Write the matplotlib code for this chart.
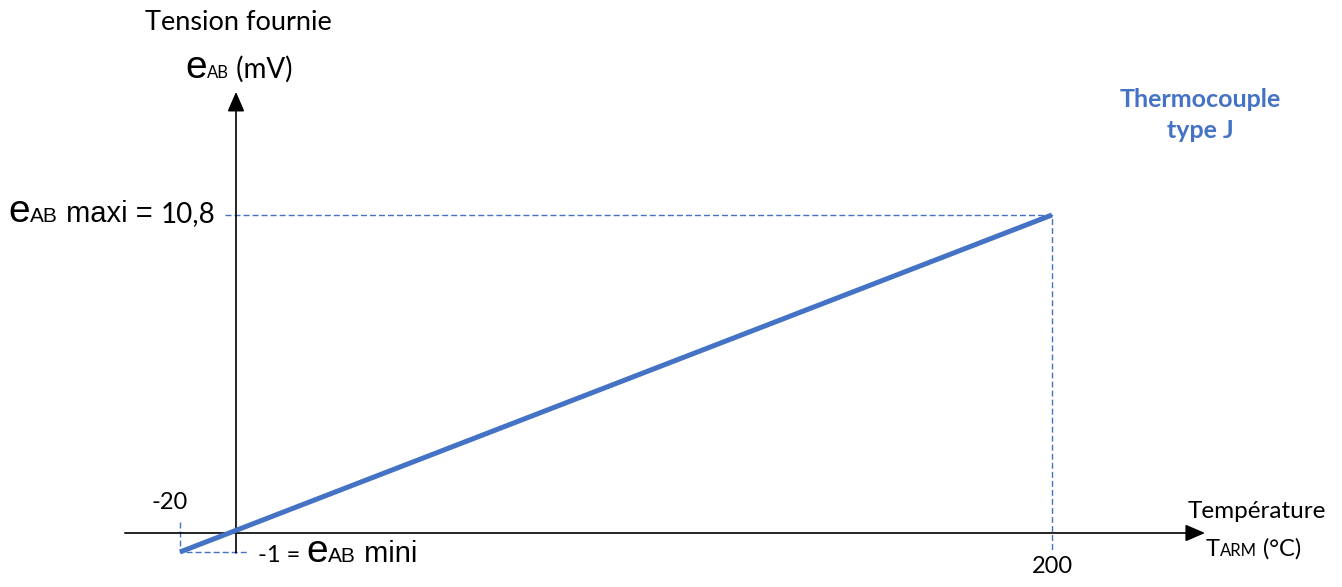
import numpy as np
import matplotlib
matplotlib.use("Agg")
import matplotlib.pyplot as plt
from matplotlib.patches import FancyArrowPatch
from matplotlib.offsetbox import TextArea, HPacker, AnnotationBbox

# Thermocouple type J: output voltage over the measuring range
temperature = [-20, 200]      # °C
voltage = [-1.0, 10.8]        # mV
t_min, t_max = temperature
e_min, e_max = voltage

BLUE = "#4472C4"
CAL = ["Lato", "DejaVu Sans"]
ARI = ["Liberation Sans", "DejaVu Sans"]

fig = plt.figure(figsize=(13.42, 5.87), dpi=100)
ax = fig.add_axes([0, 0, 1, 1])

# The negative side of both axes is drawn compressed (schematic view)
KX, KY = 0.686, 0.645


def fwd_x(x):
    x = np.asarray(x, float)
    return np.where(x < 0, x * KX, x)


def inv_x(x):
    x = np.asarray(x, float)
    return np.where(x < 0, x / KX, x)


def fwd_y(y):
    y = np.asarray(y, float)
    return np.where(y < 0, y * KY, y)


def inv_y(y):
    y = np.asarray(y, float)
    return np.where(y < 0, y / KY, y)


ax.set_xscale("function", functions=(fwd_x, inv_x))
ax.set_yscale("function", functions=(fwd_y, inv_y))
ax.set_xlim(-57.84 / KX, 271.08)
ax.set_ylim(-1.834 / KY, 18.10)
ax.set_axis_off()

# Axes drawn as arrows through the origin
arrow_kw = dict(arrowstyle="-|>,head_length=1.2,head_width=0.52", lw=1.2,
                color="black", mutation_scale=10, shrinkA=0, shrinkB=0, zorder=3)
ax.add_patch(FancyArrowPatch((-39.7, 0), (237.5, 0), **arrow_kw))
ax.add_patch(FancyArrowPatch((0, -1.05), (0, 14.98), **arrow_kw))

# Guide lines to the range limits
dash = dict(color=BLUE, lw=1.0, linestyle=(0, (4.3, 2.2)))
ax.plot([-3.9, t_max, t_max], [e_max, e_max, -0.9], **dash)
ax.plot([t_min, t_min, 2.9], [0.374, e_min, e_min], **dash)

# Characteristic
ax.plot(temperature, voltage, color=BLUE, lw=3.6, solid_capstyle="butt", zorder=5)

# Tick-like labels
ax.annotate(f"{t_min}", xy=(t_min, 0), xytext=(-10, 24), textcoords="offset pixels",
            ha="center", va="baseline", fontsize=17, family=CAL)
ax.annotate(f"{t_max}", xy=(t_max, 0), xytext=(0, -40), textcoords="offset pixels",
            ha="center", va="baseline", fontsize=17, family=CAL)


def runs(parts, xy, align=(0, 0)):
    boxes = [TextArea(s, textprops=dict(fontsize=fs, family=fam, color=col))
             for s, fs, fam, col in parts]
    pack = HPacker(children=boxes, align="baseline", pad=0, sep=0)
    ab = AnnotationBbox(pack, xy, xycoords="figure pixels", box_alignment=align,
                        frameon=False, pad=0)
    fig.add_artist(ab)


H = 587
fig.text(238 / 1342, 1 - 22 / H, "Tension fournie", ha="center", va="center",
         fontsize=19.5, family=CAL)
runs([("e", 28, ARI, "black"), ("AB", 12, CAL, "black"), (" (mV)", 20, CAL, "black")],
     (185, H - 86))
runs([("e", 28, ARI, "black"), ("AB", 15, ARI, "black"), (" maxi = ", 21, ARI, "black"),
      (f"{e_max:.1f}".replace(".", ","), 20, CAL, "black")],
     (8, H - 230))
runs([(f"{e_min:.0f} = ", 17, CAL, "black"), ("e", 28, ARI, "black"), ("AB", 15, ARI, "black"),
      (" mini", 21, ARI, "black")],
     (258, H - 570))

fig.text(1257 / 1342, 1 - 518 / H, "Température", ha="center", va="baseline",
         fontsize=17.5, family=CAL)
runs([("T", 17, CAL, "black"), ("ARM", 12, CAL, "black"), (" (°C)", 17, CAL, "black")],
     (1206, H - 560))

fig.text(1200 / 1342, 1 - 107 / H, "Thermocouple", ha="center", va="baseline",
         fontsize=18, family=CAL, weight="bold", color=BLUE)
fig.text(1200 / 1342, 1 - 138 / H, "type J", ha="center", va="baseline",
         fontsize=18, family=CAL, weight="bold", color=BLUE)

fig.savefig("out.png", dpi=100)
